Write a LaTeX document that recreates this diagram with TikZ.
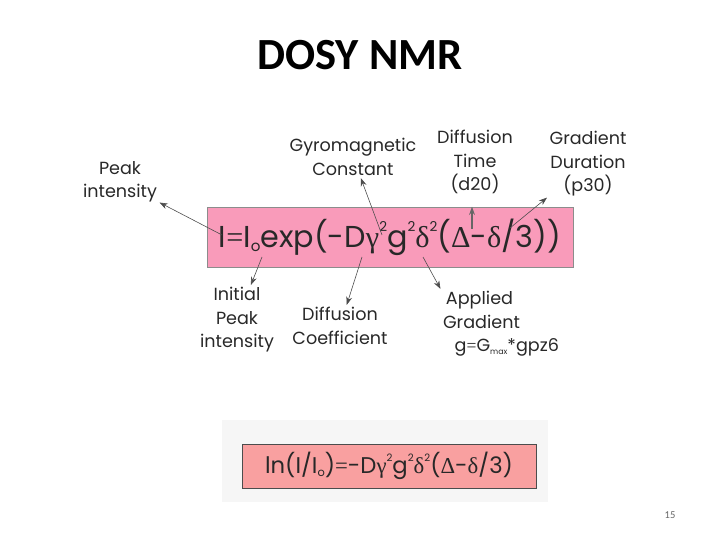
\documentclass[tikz,border=0pt]{standalone}
\usepackage{fontspec}
\usepackage{graphicx}
\setmainfont{Poppins}
\newfontfamily\titlefont{Carlito}
\newfontfamily\grk{Liberation Serif}
\usetikzlibrary{arrows.meta}

\definecolor{eqpink}{RGB}{249,155,186}
\definecolor{lnpink}{RGB}{249,160,160}
\definecolor{bggray}{RGB}{246,246,246}
\definecolor{txtgray}{RGB}{40,40,40}

\newcommand{\sq}{\raisebox{0.95ex}{\scalebox{0.45}{2}}}
\newcommand{\lowo}{\raisebox{-0.25ex}{\scalebox{0.5}{o}}}
\newcommand{\gr}[1]{{\grk #1}}

\tikzset{
  lbl/.style={align=center, text=txtgray, inner sep=2pt,
    font=\fontsize{15}{20}\selectfont},
  pointer/.style={draw=black!70, line width=0.5pt,
    -{Stealth[length=7pt,width=5pt]}},
}

\begin{document}
\begin{tikzpicture}[x=0.03cm, y=-0.03cm]
  \useasboundingbox (0,0) rectangle (720,540);

  \node (title) at (360,55) {\titlefont\bfseries\fontsize{38}{44}\selectfont DOSY NMR};

  % main equation
  \node (eq) at (390,237) [draw=black!45, fill=eqpink, minimum width=10.98cm,
    minimum height=1.8cm, inner sep=0pt, text=txtgray,
    font=\fontsize{25.8}{30}\selectfont]
    {I\gr{=}I\lowo exp(-D\gr{γ}\sq g\sq\gr{δ}\sq(\gr{Δ}-\gr{δ}/3))};

  % labels
  \node (peak) at (120,182) [lbl] {Peak\\intensity};
  \node (gyro) at (353,157) [lbl] {Gyromagnetic\\Constant};
  \node (dtime) at (475,162) [lbl] {Diffusion\\Time\\(d20)};
  \node (gdur) at (588,164) [lbl] {Gradient\\Duration\\(p30)};
  \node (init) at (237,320) [lbl] {Initial\\Peak\\intensity};
  \node (dcoef) at (340,326) [lbl] {Diffusion\\Coefficient};
  \node (grad) at (501,324) [lbl, align=left]
    {\,Applied\\Gradient\\\hspace{0.35cm}g\gr{=}G\raisebox{-0.3ex}{\scalebox{0.45}{max}}*gpz6};

  % points on the equation
  \coordinate (atI) at (222,235);
  \coordinate (atGam) at (382,235);
  \coordinate (atDel) at (472,229);
  \coordinate (atDen) at (510,228);
  \coordinate (atIo) at (262,257);
  \coordinate (atD) at (362,257);
  \coordinate (atG) at (423,257);

  \draw[pointer] (atI) -- (peak);
  \draw[pointer] (atGam) -- (gyro);
  \draw[pointer, line width=1.8pt, draw=black!60] (atDel) -- (eq.north -| atDel);
  \draw[pointer] (atDen) -- (gdur);
  \draw[pointer] (atIo) -- (init);
  \draw[pointer] (atD) -- (dcoef);
  \draw[pointer] (atG) -- (grad.north west);

  % log form
  \node (lnbg) at (385,461) [fill=bggray, minimum width=9.78cm,
    minimum height=2.46cm, inner sep=0pt] {};
  \node (lneq) at (389,466) [draw=black!70, fill=lnpink, minimum width=8.82cm,
    minimum height=1.32cm, inner sep=0pt, text=txtgray,
    font=\fontsize{19.4}{24}\selectfont]
    {ln(I/I\lowo)\gr{=}-D\gr{γ}\sq g\sq\gr{δ}\sq(\gr{Δ}-\gr{δ}/3)};

  \node (pageno) at (670,515) [text=black!60, font=\titlefont\fontsize{9}{11}\selectfont] {15};
\end{tikzpicture}
\end{document}
